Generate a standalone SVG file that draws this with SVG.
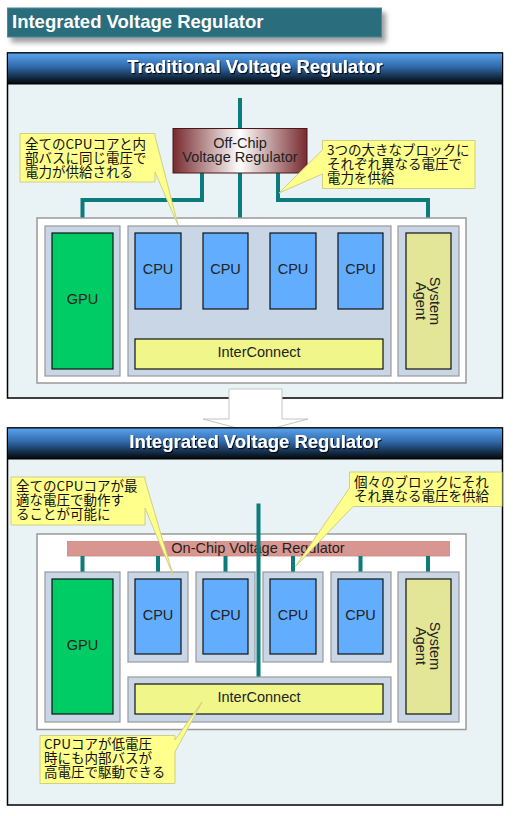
<svg xmlns="http://www.w3.org/2000/svg" width="527" height="816" viewBox="0 0 527 816">
<defs>
  <linearGradient id="hdr" x1="0" y1="0" x2="0" y2="1">
    <stop offset="0" stop-color="#5ba4f0"/>
    <stop offset="0.45" stop-color="#2f68a8"/>
    <stop offset="1" stop-color="#020608"/>
  </linearGradient>
  <linearGradient id="vr" x1="0" y1="0" x2="1" y2="0">
    <stop offset="0" stop-color="#772a2e"/>
    <stop offset="0.5" stop-color="#ffffff"/>
    <stop offset="1" stop-color="#772a2e"/>
  </linearGradient>
  <filter id="barShadow" x="-5%" y="-30%" width="115%" height="180%">
    <feDropShadow dx="4" dy="5" stdDeviation="2.5" flood-color="#777" flood-opacity="0.7"/>
  </filter>
  <filter id="txtShadow" x="-5%" y="-30%" width="110%" height="160%">
    <feDropShadow dx="1" dy="1.2" stdDeviation="0.7" flood-color="#000" flood-opacity="0.9"/>
  </filter>
  <style>
    .panel { fill: #e9f3f5; stroke: #000; stroke-width: 1.5; }
    .header { fill: url(#hdr); stroke: #000; stroke-width: 1; }
    .htxt { font-family: "Liberation Sans", Arial, sans-serif; font-weight: bold; font-size: 18.5px; fill: #fff; text-anchor: middle; }
    .chip { fill: #fff; stroke: #999; stroke-width: 1.5; }
    .cont { fill: #c9d6e6; stroke: #999; stroke-width: 1.2; }
    .gpu { fill: #00cc66; stroke: #111; stroke-width: 1.2; }
    .cpu { fill: #63adff; stroke: #111; stroke-width: 1.2; }
    .ic { fill: #f0f68a; stroke: #111; stroke-width: 1.2; }
    .sa { fill: #e2e696; stroke: #111; stroke-width: 1.2; }
    .lbl { font-family: "Liberation Sans", Arial, sans-serif; font-size: 14.5px; fill: #222; text-anchor: middle; }
    .wire { fill: none; stroke: #0b7b7b; stroke-width: 4; stroke-linejoin: miter; }
    .callout { fill: #ffff8c; stroke: #cfcf86; stroke-width: 1; stroke-linejoin: miter; }
    .ctxt { font-family: "Noto Sans CJK JP", "Liberation Sans", sans-serif; font-size: 13.5px; fill: #111; }
  </style>
</defs>

<g id="title">
  <rect x="7.5" y="8" width="374" height="29" fill="#2a6d7c" stroke="#4a8a98" stroke-width="1" filter="url(#barShadow)"/>
  <text x="12" y="28" font-family="Liberation Sans, Arial, sans-serif" font-weight="bold" font-size="18.5" fill="#fff">Integrated Voltage Regulator</text>
</g>

<!-- Panel 1 -->
<g id="panel-traditional">
  <rect class="panel" x="7.5" y="53" width="495" height="345"/>
  <rect class="header" x="7.5" y="53" width="495" height="31"/>
  <text class="htxt" x="255" y="73" filter="url(#txtShadow)">Traditional Voltage Regulator</text>
</g>

<g id="connectors-top">
  <line class="wire" x1="240" y1="98" x2="240" y2="129"/>
  <line class="wire" x1="240" y1="173" x2="240" y2="226"/>
  <polyline class="wire" points="202,173 202,200 82.5,200 82.5,226"/>
  <polyline class="wire" points="278,173 278,200 428,200 428,226"/>
</g>

<g id="offchip-vr">
  <rect x="173" y="128.5" width="134" height="44.5" fill="url(#vr)" stroke="#4a1818" stroke-width="1"/>
  <text class="lbl" fill="#333"><tspan x="240" y="148">Off-Chip</tspan><tspan x="240" y="162">Voltage Regulator</tspan></text>
</g>

<g id="chip-top">
  <rect class="chip" x="37" y="218" width="429" height="165"/>
</g>
<g id="gpu-top">
  <rect class="cont" x="45" y="226" width="75" height="150"/>
  <rect class="gpu" x="52" y="233" width="61" height="136"/>
  <text class="lbl" x="82.5" y="304">GPU</text>
</g>
<g id="cpu-group-top">
  <rect class="cont" x="128" y="226" width="263" height="150"/>
</g>
<g id="cpu1-top">
  <rect class="cpu" x="135" y="233" width="46" height="76"/>
  <text class="lbl" x="158" y="274">CPU</text>
</g>
<g id="cpu2-top">
  <rect class="cpu" x="203" y="233" width="45" height="76"/>
  <text class="lbl" x="225.5" y="274">CPU</text>
</g>
<g id="cpu3-top">
  <rect class="cpu" x="270" y="233" width="46" height="76"/>
  <text class="lbl" x="293" y="274">CPU</text>
</g>
<g id="cpu4-top">
  <rect class="cpu" x="338" y="233" width="45" height="76"/>
  <text class="lbl" x="360.5" y="274">CPU</text>
</g>
<g id="interconnect-top">
  <rect class="ic" x="135" y="339" width="248" height="30"/>
  <text class="lbl" x="259" y="357">InterConnect</text>
</g>
<g id="sa-top">
  <rect class="cont" x="398" y="226" width="61" height="150"/>
  <rect class="sa" x="406" y="233" width="45" height="136"/>
  <text class="lbl" transform="translate(428.5,301) rotate(90)"><tspan x="0" y="-1.8">System</tspan><tspan x="0" y="12.2">Agent</tspan></text>
</g>

<g id="callout-top-left">
  <path class="callout" d="M20,133.5 H155 V136 L178,225 L155,172 V182 H20 Z"/>
  <text class="ctxt"><tspan x="25" y="148.5">全てのCPUコアと内</tspan><tspan x="25" y="162.5">部バスに同じ電圧で</tspan><tspan x="25" y="176.5">電力が供給される</tspan></text>
</g>
<g id="callout-top-right">
  <path class="callout" d="M322.5,140.5 H475 V188.5 H322.5 V174 L279,193 L322.5,150 Z"/>
  <text class="ctxt"><tspan x="327" y="155">3つの大きなブロックに</tspan><tspan x="327" y="169">それぞれ異なる電圧で</tspan><tspan x="327" y="183">電力を供給</tspan></text>
</g>

<!-- Arrow -->
<g id="arrow">
  <polygon points="229,389 282,389 282,419 308,419 255.5,433 203,419 229,419" fill="#fff" stroke="#c4c4c4" stroke-width="1"/>
</g>

<!-- Panel 2 -->
<g id="panel-integrated">
  <rect class="panel" x="7.5" y="428" width="495" height="377"/>
  <rect class="header" x="7.5" y="428" width="495" height="31"/>
  <text class="htxt" x="255" y="448" filter="url(#txtShadow)">Integrated Voltage Regulator</text>
</g>

<g id="chip-bottom">
  <rect class="chip" x="37" y="534" width="429" height="195.5"/>
</g>

<g id="onchip-vr">
  <rect x="67.5" y="541.5" width="382" height="14.5" fill="#d9958f" stroke="#c98580" stroke-width="0.8"/>
  <text class="lbl" x="258" y="553">On-Chip Voltage Regulator</text>
</g>

<g id="connectors-bottom">
  <line class="wire" x1="82.5" y1="556" x2="82.5" y2="572"/>
  <line class="wire" x1="158" y1="556" x2="158" y2="572"/>
  <line class="wire" x1="225.5" y1="556" x2="225.5" y2="572"/>
  <line class="wire" x1="293" y1="556" x2="293" y2="572"/>
  <line class="wire" x1="360.5" y1="556" x2="360.5" y2="572"/>
  <line class="wire" x1="428" y1="556" x2="428" y2="572"/>
  <line class="wire" x1="258.5" y1="503.5" x2="258.5" y2="677"/>
</g>

<g id="gpu-bottom">
  <rect class="cont" x="45" y="572" width="75" height="150"/>
  <rect class="gpu" x="52" y="579" width="61" height="135"/>
  <text class="lbl" x="82.5" y="650">GPU</text>
</g>
<g id="cpu1-bottom">
  <rect class="cont" x="128" y="572" width="60" height="90"/>
  <rect class="cpu" x="135" y="579" width="46" height="75"/>
  <text class="lbl" x="158" y="620">CPU</text>
</g>
<g id="cpu2-bottom">
  <rect class="cont" x="196" y="572" width="59" height="90"/>
  <rect class="cpu" x="203" y="579" width="45" height="75"/>
  <text class="lbl" x="225.5" y="620">CPU</text>
</g>
<g id="cpu3-bottom">
  <rect class="cont" x="263" y="572" width="60" height="90"/>
  <rect class="cpu" x="270" y="579" width="46" height="75"/>
  <text class="lbl" x="293" y="620">CPU</text>
</g>
<g id="cpu4-bottom">
  <rect class="cont" x="331" y="572" width="60" height="90"/>
  <rect class="cpu" x="338" y="579" width="45" height="75"/>
  <text class="lbl" x="360.5" y="620">CPU</text>
</g>
<g id="interconnect-bottom">
  <rect class="cont" x="128" y="677" width="263" height="45"/>
  <rect class="ic" x="135" y="684" width="248" height="30"/>
  <text class="lbl" x="259" y="702">InterConnect</text>
</g>
<g id="sa-bottom">
  <rect class="cont" x="398" y="572" width="61" height="150"/>
  <rect class="sa" x="406" y="579" width="45" height="135"/>
  <text class="lbl" transform="translate(428.5,646) rotate(90)"><tspan x="0" y="-1.8">System</tspan><tspan x="0" y="12.2">Agent</tspan></text>
</g>

<g id="callout-bottom-left">
  <path class="callout" d="M11,477 H145 V480 L173,575 L145,508 V525 H11 Z"/>
  <text class="ctxt"><tspan x="16" y="491">全てのCPUコアが最</tspan><tspan x="16" y="505">適な電圧で動作す</tspan><tspan x="16" y="519">ることが可能に</tspan></text>
</g>
<g id="callout-bottom-right">
  <path class="callout" d="M349.5,472 H502 V506.5 H353 L295,567 L349.5,488 Z"/>
  <text class="ctxt"><tspan x="354" y="487">個々のブロックにそれ</tspan><tspan x="354" y="501">それ異なる電圧を供給</tspan></text>
</g>
<g id="callout-bottom">
  <path class="callout" d="M40,735.5 H175 V740 L202,702 L175,752 V783.5 H40 Z"/>
  <text class="ctxt"><tspan x="44" y="749">CPUコアが低電圧</tspan><tspan x="44" y="763">時にも内部バスが</tspan><tspan x="44" y="777">高電圧で駆動できる</tspan></text>
</g>
</svg>
